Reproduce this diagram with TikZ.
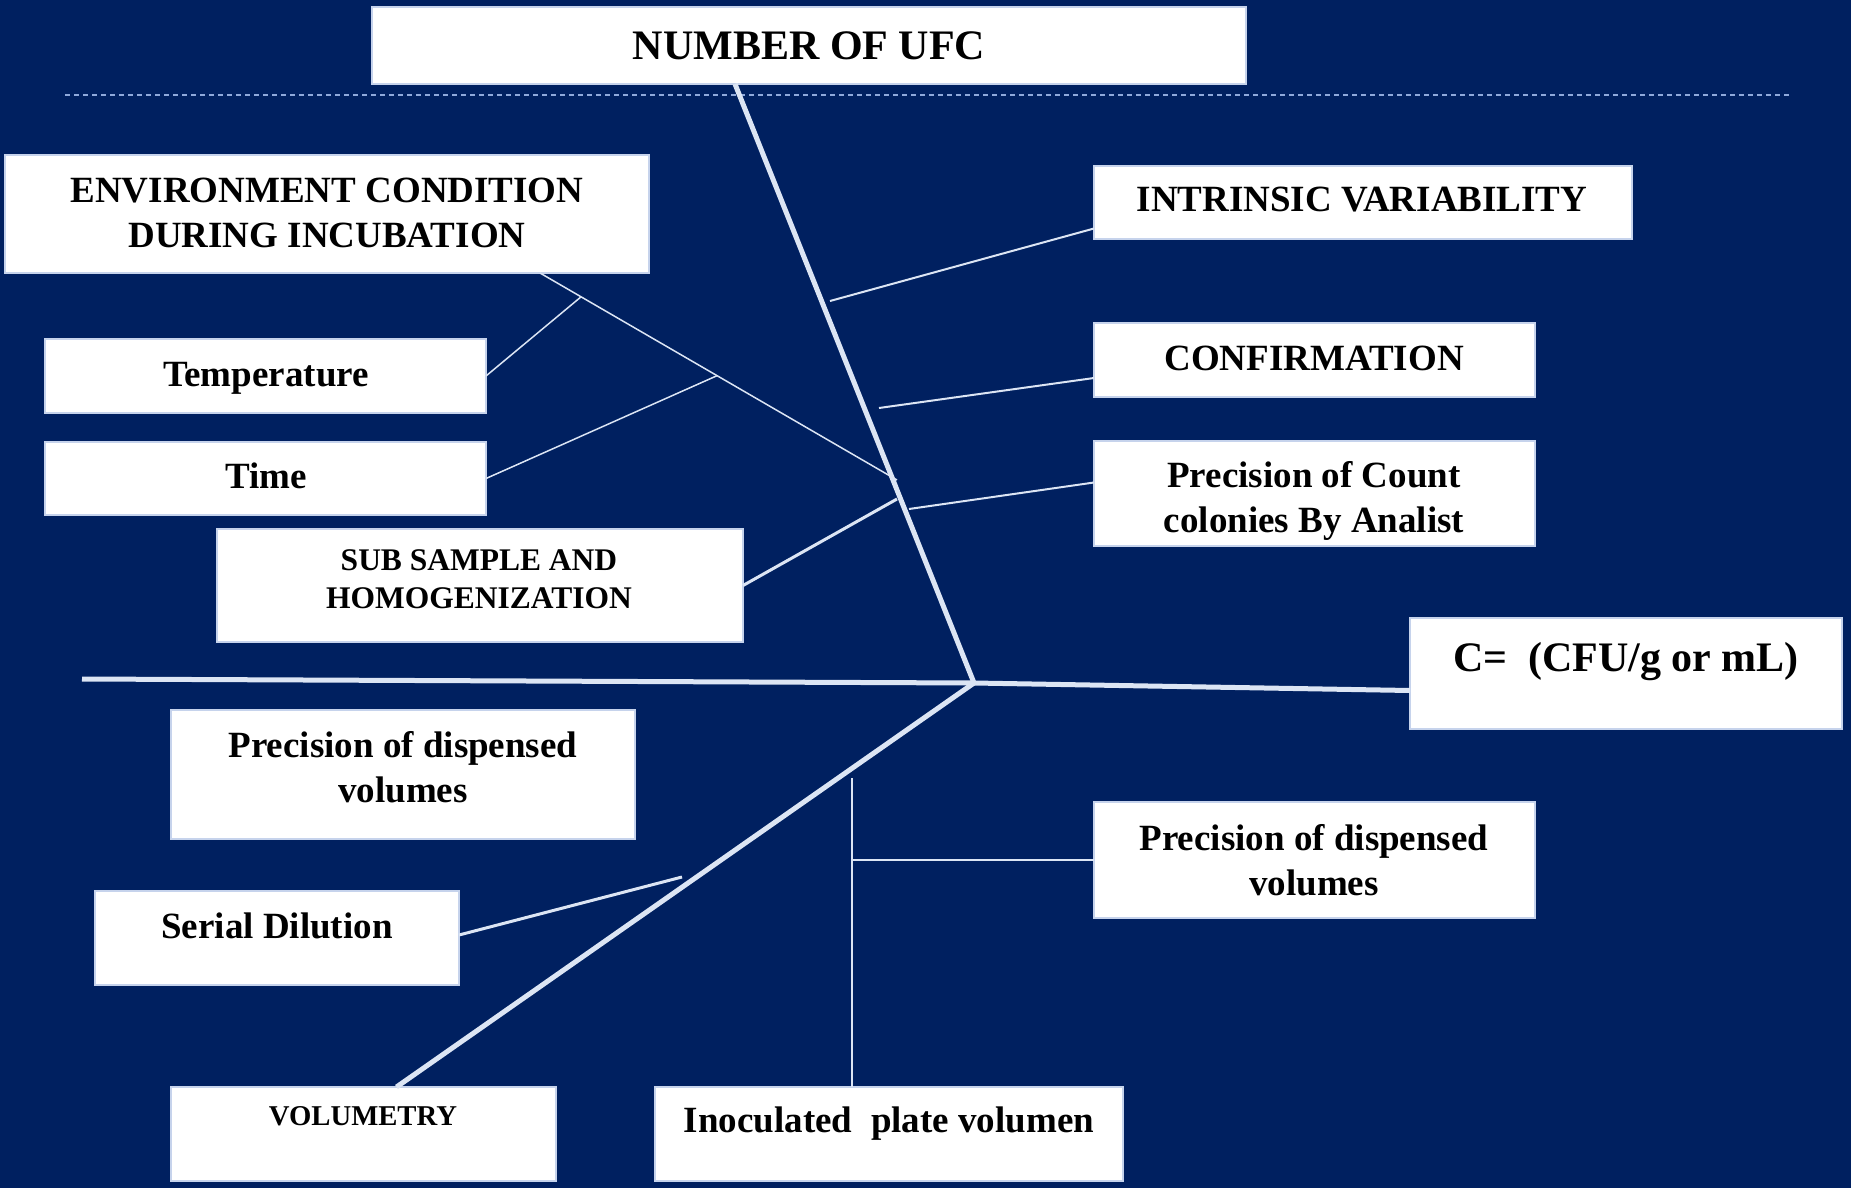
\documentclass[tikz,border=0pt]{standalone}
\usepackage{fontspec}
\setmainfont{Liberation Serif}
\usetikzlibrary{calc}
\definecolor{navy}{HTML}{002060}
\definecolor{bone}{HTML}{DCE5F4}
\definecolor{rim}{HTML}{C6D3EC}
\definecolor{dotline}{HTML}{8FA9DB}
% a white panel given by its corners (x1,y1) and (x2,y2), y growing downwards
\newcommand\panel[5]{%
  \node[panelbox, minimum width={(#4)-(#2)}, minimum height={(#5)-(#3)}]
    (#1) at ({((#2)+(#4))/2},{((#3)+(#5))/2}) {};}
\begin{document}
\begin{tikzpicture}[x=1pt,y=-1pt,
  panelbox/.style={rectangle, draw=rim, line width=2pt, fill=white, inner sep=0pt, outer sep=0pt},
  lbl/.style={inner sep=0pt, align=center, text=black, font=\bfseries\fontsize{37}{45}\selectfont},
  bigbone/.style={draw=bone, line width=5pt},
  midbone/.style={draw=bone, line width=3pt},
  smallbone/.style={draw=bone, line width=2pt},
  twig/.style={draw=bone, line width=1.5pt}]

\fill[navy] (0,0) rectangle (1851,1188);
\useasboundingbox (0,0) rectangle (1851,1188);

% dotted rule under the effect box
\coordinate (rulel) at (65,95);
\coordinate (ruler) at (1792,95);
\draw[dotline, line width=2pt, dash pattern=on 5pt off 4pt] (rulel) -- (ruler);

% panels
\panel{top}{372}{7}{1246}{84}
\panel{env}{5}{155}{649}{273}
\panel{intr}{1094}{166}{1632}{239}
\panel{temp}{45}{339}{486}{413}
\panel{time}{45}{442}{486}{515}
\panel{sub}{217}{529}{743}{642}
\panel{conf}{1094}{323}{1535}{397}
\panel{count}{1094}{441}{1535}{546}
\panel{cbox}{1410}{618}{1842}{729}
\panel{pdl}{171}{710}{635}{839}
\panel{serial}{95}{891}{459}{985}
\panel{pdr}{1094}{802}{1535}{918}
\panel{vol}{171}{1087}{556}{1181}
\panel{inoc}{655}{1087}{1123}{1181}

% skeleton
\coordinate (head) at ($(top.south)+(-74,0)$);
\coordinate (joint) at (974,683);
\coordinate (tail) at (82,679);
\draw[bigbone] (head) -- (joint);
\draw[bigbone] (tail) -- (joint) -- ($(cbox.west)+(0,17)$);
\draw[bigbone] (joint) -- ($(vol.north)+(33,0)$);

% incubation branch and its sub-causes
\coordinate (envtop) at ($(env.south)+(213,0)$);
\coordinate (envfoot) at (897,480);
\draw[twig] (envtop) -- (envfoot);
\draw[twig] (temp.east) -- ($(envtop)!0.115!(envfoot)$);
\draw[twig] (time.east) -- ($(envtop)!0.496!(envfoot)$);
\coordinate (subfoot) at (897,499);
\draw[midbone] (sub.east) -- (subfoot);

% right-hand causes
\coordinate (intrfoot) at (830,301);
\coordinate (conffoot) at (879,408);
\coordinate (countfoot) at (909,509);
\draw[smallbone] (intrfoot) -- ($(intr.west)+(0,26)$);
\draw[smallbone] (conffoot) -- ($(conf.west)+(0,18)$);
\draw[smallbone] (countfoot) -- ($(count.west)+(0,-11)$);

% lower causes
\coordinate (serialfoot) at (682,877);
\draw[midbone] ($(serial.east)+(0,-3)$) -- (serialfoot);
\coordinate (platetop) at (852,778);
\coordinate (platemid) at (852,860);
\draw[twig] (platetop) -- ($(inoc.north)+(-37,0)$);
\draw[twig] (platemid) -- (pdr.west);

% labels
\node[lbl, font=\bfseries\fontsize{42}{50}\selectfont] (topT) at (809,46) {NUMBER OF UFC};
\node[lbl] (envT) at (327,212.5) {ENVIRONMENT CONDITION\\DURING INCUBATION};
\node[lbl] (intrT) at (1362,200) {INTRINSIC VARIABILITY};
\node[lbl] (tempT) at (266,378) {Temperature};
\node[lbl] (timeT) at (266,476) {Time};
\node[lbl, font=\bfseries\fontsize{31.5}{38}\selectfont] (subT) at (479,579) {SUB SAMPLE AND\\HOMOGENIZATION};
\node[lbl] (confT) at (1314,358) {CONFIRMATION};
\node[lbl] (countT) at (1314,501) {Precision of Count\\colonies By Analist};
\node[lbl, font=\bfseries\fontsize{42}{50}\selectfont] (cboxT) at (1626,662) {C=\ \ (CFU/g or mL)};
\node[lbl] (pdlT) at (403,767) {Precision of dispensed\\volumes};
\node[lbl] (serialT) at (277,926) {Serial Dilution};
\node[lbl] (pdrT) at (1314,860) {Precision of dispensed\\volumes};
\node[lbl, font=\bfseries\fontsize{28.7}{34}\selectfont] (volT) at (363,1116) {VOLUMETRY};
\node[lbl] (inocT) at (889,1124) {Inoculated\ \ plate volumen};
\end{tikzpicture}
\end{document}
